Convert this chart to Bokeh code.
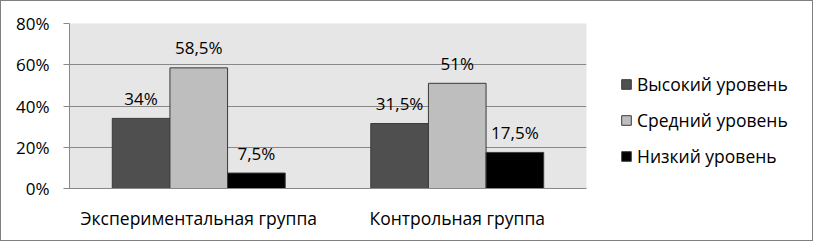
from bokeh.plotting import figure
from bokeh.models import ColumnDataSource, FactorRange, FixedTicker, Legend, LegendItem
from bokeh.transform import dodge
from bokeh.core.properties import value
from bokeh.embed import file_html
from bokeh.resources import INLINE

groups = ["Экспериментальная группа", "Контрольная группа"]
series_names = ["Высокий уровень", "Средний уровень", "Низкий уровень"]
high = [34, 31.5]
medium = [58.5, 51]
low = [7.5, 17.5]
y_ticks = [0, 20, 40, 60, 80]
y_tick_labels = ["0%", "20%", "40%", "60%", "80%"]
colors = ["#4f4f4f", "#bebebe", "#000000"]

FONT = "Open Sans"
FS = "17px"
FS_BIG = "17.5px"

def fmt(v):
    s = ("%g" % v).replace(".", ",")
    return s + "%"

src = ColumnDataSource(dict(
    group=groups,
    high=high, medium=medium, low=low,
    high_lbl=[fmt(v) for v in high],
    medium_lbl=[fmt(v) for v in medium],
    low_lbl=[fmt(v) for v in low],
))

p = figure(
    x_range=FactorRange(factors=groups), y_range=(0, 80),
    frame_width=517, frame_height=165,
    min_border_left=69, min_border_right=0, min_border_top=23, min_border_bottom=53,
    output_backend="svg", toolbar_location=None,
)
p.border_fill_color = "#ffffff"
p.background_fill_color = "#e6e6e6"
p.outline_line_color = None

bw = 0.223
keys = ["high", "medium", "low"]
offsets = [-bw, 0, bw]
renderers = []
for k, off, c in zip(keys, offsets, colors):
    r = p.vbar(x=dodge("group", off, range=p.x_range), top=k, width=bw, source=src,
               fill_color=c, line_color="#3a3a3a", line_width=1)
    renderers.append(r)
    p.text(x=dodge("group", off, range=p.x_range), y=k, text=k + "_lbl", source=src,
           text_align="center", text_baseline="middle", y_offset=-20,
           text_font=value(FONT), text_font_size=FS, text_color="#000000")

# grid
p.xgrid.grid_line_color = None
p.ygrid.grid_line_color = "#888888"
p.ygrid.grid_line_width = 1
p.ygrid.ticker = FixedTicker(ticks=y_ticks)

# y axis
p.yaxis.ticker = FixedTicker(ticks=y_ticks)
p.yaxis.major_label_overrides = {t: l for t, l in zip(y_ticks, y_tick_labels)}
p.yaxis.axis_line_color = "#888888"
p.yaxis.major_tick_line_color = "#888888"
p.yaxis.major_tick_out = 6
p.yaxis.major_tick_in = 0
p.yaxis.minor_tick_line_color = None
p.yaxis.major_label_standoff = 14
p.yaxis.major_label_text_font = FONT
p.yaxis.major_label_text_font_size = FS
p.yaxis.major_label_text_color = "#000000"

# x axis
p.xaxis.axis_line_color = "#888888"
p.xaxis.major_tick_line_color = None
p.xaxis.major_tick_out = 0
p.xaxis.major_label_standoff = 17
p.xaxis.major_label_text_font = FONT
p.xaxis.major_label_text_font_size = FS_BIG
p.xaxis.major_label_text_color = "#000000"

legend = Legend(
    items=[LegendItem(label=n, renderers=[r]) for n, r in zip(series_names, renderers)],
    location=(34, 20),
)
legend.background_fill_alpha = 0
legend.border_line_color = None
legend.margin = 0
legend.padding = 0
legend.spacing = 12
legend.glyph_width = 12
legend.glyph_height = 12
legend.label_standoff = 5
legend.label_text_font = FONT
legend.label_text_font_size = FS_BIG
legend.label_text_color = "#000000"
legend.label_height = 20
p.add_layout(legend, "right")

html = file_html(p, INLINE)
frame_div = ('<div style="position:fixed;left:0;top:0;width:813px;height:241px;'
             'box-sizing:border-box;border:1px solid #808080;pointer-events:none;'
             'z-index:1000"></div>')
html = html.replace("</body>", frame_div + "</body>")
open("out.html", "w").write(html)
